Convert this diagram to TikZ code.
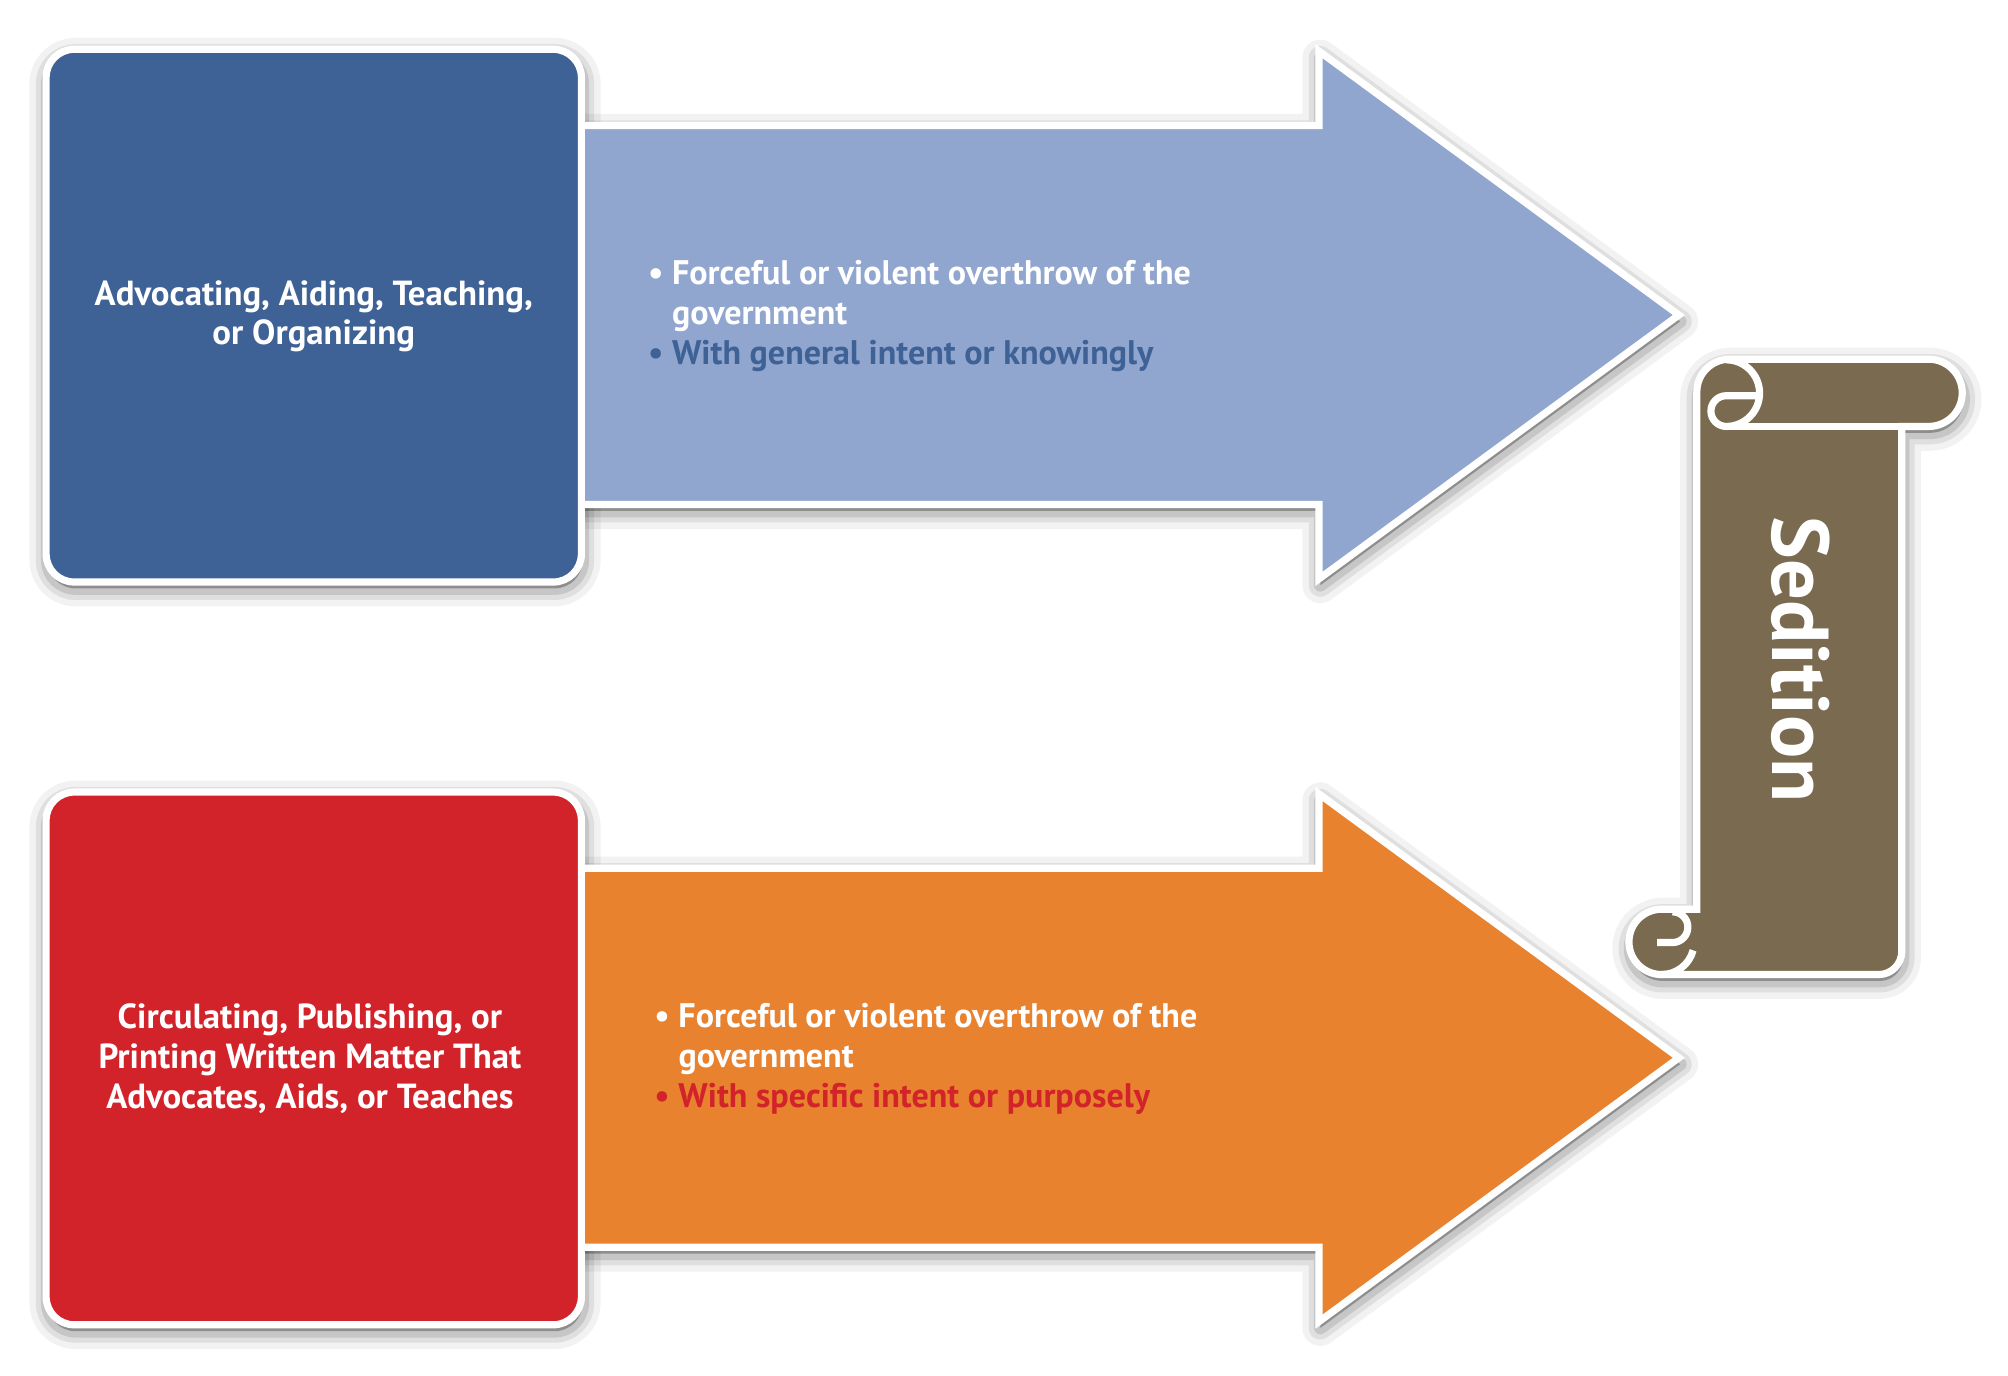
\documentclass[tikz,border=0pt]{standalone}
\usepackage{fontspec}
\setmainfont{PT Sans}
\definecolor{dblue}{HTML}{3E6196}
\definecolor{lblue}{HTML}{91A6CF}
\definecolor{dred}{HTML}{D2232A}
\definecolor{orng}{HTML}{E8822F}
\definecolor{brwn}{HTML}{7A6A4F}
\tikzset{
  whiteedge/.style={draw=white, line width=2.8pt},
  boxtxt/.style={text=white, align=center, font=\bfseries\fontsize{13.6}{15.6}\selectfont},
  arrtxt/.style={text=white, align=left, anchor=west, font=\bfseries\fontsize{13.3}{15.6}\selectfont},
  sedtxt/.style={text=white, rotate=-90, font=\bfseries\fontsize{31.5}{31.5}\selectfont},
}
\newcommand\ArrowShape[1]{(440,{#1-148}) -- (1030,{#1-148}) -- (1030,{#1-206}) -- (1311,#1) -- (1030,{#1+206}) -- (1030,{#1+148}) -- (440,{#1+148}) -- cycle}
\newcommand\BoxShape[1]{[rounded corners=11pt] (36,{#1-208}) rectangle (454,{#1+208})}
\newcommand\ScrollShape{(1325,306) arc[start angle=180,end angle=270,radius=25.5] -- (1506,280.5) arc[start angle=270,end angle=450,radius=26.25] -- (1485,333) -- (1485,743) arc[start angle=0,end angle=90,radius=18] -- (1297.5,761) arc[start angle=90,end angle=270,radius=25.5] -- (1325,710) -- cycle}
\newcommand\SoftShadow[1]{%
  \begin{scope}[shift={(1,5)}, line join=round]
    \draw[line width=14pt, black, opacity=0.05] #1;
    \draw[line width=9pt, black, opacity=0.08] #1;
    \draw[line width=5pt, black, opacity=0.11] #1;
    \fill[black, opacity=0.28] #1;
  \end{scope}}
\begin{document}
\begin{tikzpicture}[x=0.5pt,y=-0.5pt]
\useasboundingbox[fill=white] (0,0) rectangle (1568,1074);
% shadows
\SoftShadow{\ArrowShape{246}}
\SoftShadow{\ArrowShape{826}}
\SoftShadow{\BoxShape{246.5}}
\SoftShadow{\BoxShape{826.5}}
\SoftShadow{\ScrollShape}
% arrows
\filldraw[fill=lblue, whiteedge] \ArrowShape{246};
\filldraw[fill=orng, whiteedge] \ArrowShape{826};
% boxes
\filldraw[fill=dblue, whiteedge] \BoxShape{246.5};
\filldraw[fill=dred, whiteedge] \BoxShape{826.5};
% scroll
\filldraw[fill=brwn, whiteedge] \ScrollShape;
\draw[whiteedge] (1348,333) -- (1485,333);
\draw[whiteedge] (1348,281) arc[start angle=270,end angle=450,radius=26] arc[start angle=90,end angle=270,radius=12] -- (1373,309);
\draw[whiteedge] (1306,712) arc[start angle=270,end angle=450,radius=12] -- (1294,736);
\draw[whiteedge] (1322.1,742.1) arc[start angle=15,end angle=90,radius=25.5];
% texts
\node[boxtxt] (tA) at (245,247) {Advocating, Aiding, Teaching,\\or Organizing};
\node[arrtxt] (aA) at (499,247) {\textbullet\ Forceful or violent overthrow of the\\\hphantom{\textbullet\ }government\\\textcolor{dblue}{\textbullet\ With general intent or knowingly}};
\node[boxtxt] (tB) at (242,827) {Circulating, Publishing, or\\Printing Written Matter That\\Advocates, Aids, or Teaches};
\node[arrtxt] (aB) at (504,827) {\textbullet\ Forceful or violent overthrow of the\\\hphantom{\textbullet\ }government\\\textcolor{dred}{\textbullet\ With specific intent or purposely}};
\node[sedtxt] (sed) at (1406,515) {Sedition};
\end{tikzpicture}
\end{document}
